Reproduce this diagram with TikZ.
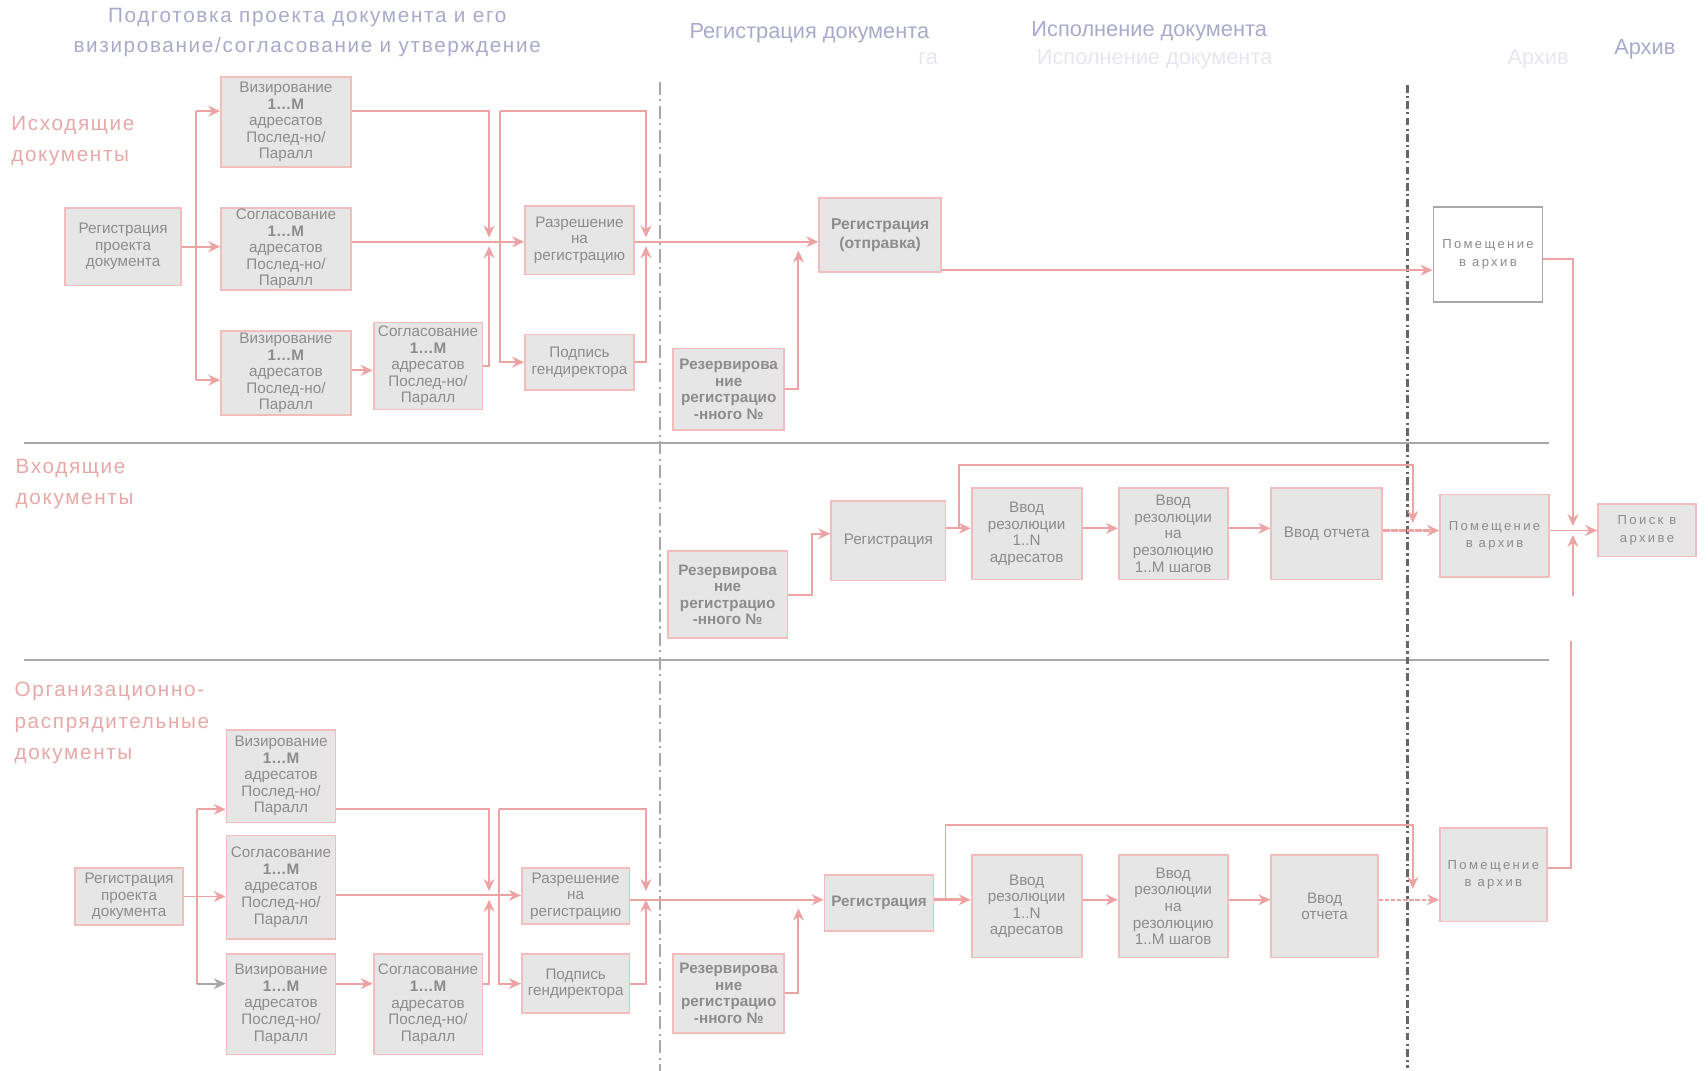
\documentclass[tikz,border=0pt]{standalone}
\usepackage{fontspec}
\setmainfont{Liberation Sans}
\newfontfamily\lsfont[LetterSpace=8]{Liberation Sans}
\newfontfamily\wsfont[LetterSpace=18]{Liberation Sans}
\usetikzlibrary{arrows.meta}
\definecolor{pk}{HTML}{EDA3A3}
\definecolor{pkb}{HTML}{F2BDBD}
\definecolor{bx}{HTML}{E6E6E6}
\definecolor{tx}{HTML}{8C8C8C}
\definecolor{hd}{HTML}{A9A9CB}
\definecolor{gh}{HTML}{E6E6F0}
\definecolor{lb}{HTML}{E8A8A8}
\definecolor{sep}{HTML}{A8A8A8}
\begin{document}
\begin{tikzpicture}[x=0.5pt,y=-0.5pt,
  box/.style={draw=pkb, fill=bx, line width=0.8pt, text=tx, align=center, inner sep=0pt,
    font=\fontsize{7}{7.6}\selectfont},
  wbox/.style={draw=sep, fill=white, line width=0.8pt, text=tx, align=center, inner sep=0pt,
    font=\wsfont\fontsize{6}{8}\selectfont},
  abox/.style={box, font=\wsfont\fontsize{6}{8}\selectfont},
  ln/.style={draw=pk, line width=0.9pt},
  arr/.style={ln, -{Stealth[length=5.5pt,width=5pt]}},
  garr/.style={draw=sep, line width=0.9pt, -{Stealth[length=5.5pt,width=5pt]}},
  lbl/.style={anchor=north west, align=left, text=lb, inner sep=0pt,
    font=\lsfont\fontsize{9.5}{14.5}\selectfont},
  hdr/.style={text=hd, inner sep=0pt, font=\lsfont\fontsize{9.5}{13.5}\selectfont, align=center},
  hdb/.style={text=hd, inner sep=0pt, font=\fontsize{10}{12}\selectfont},
  ghost/.style={text=gh, inner sep=0pt, font=\fontsize{10}{12}\selectfont},
  sepline/.style={draw=sep, line width=1pt},
  vdash/.style={draw=sep, line width=1.1pt, dash pattern=on 6pt off 2pt on 1pt off 2pt},
  vdash2/.style={draw=black!60, line width=1.1pt, dash pattern=on 3.5pt off 1.5pt on 1pt off 1.5pt}
]
\useasboundingbox (0,0) rectangle (1568,983);

% ---------- headers ----------
\node[hdr] (h1) at (282,30) {Подготовка проекта документа и его\\визирование/согласование и утверждение};
\node[hdb] (h2) at (743,31) {Регистрация документа};
\node[ghost] (h2g) at (852,54) {га};
\node[hdb] (h3) at (1055,29) {Исполнение документа};
\node[ghost] (h3g) at (1060,54) {Исполнение документа};
\node[ghost] (h4g) at (1412,54) {Архив};
\node[hdb] (h4) at (1510,45) {Архив};

% ---------- row labels ----------
\node[lbl] (t1) at (10,106) {Исходящие\\документы};
\node[lbl] (t2) at (14,421) {Входящие\\документы};
\node[lbl] (t3) at (13,626) {Организационно-\\распрядительные\\документы};

% ---------- separators ----------
\draw[sepline] (22,407) -- (1422,407);
\draw[sepline] (22,606) -- (1422,606);
\draw[vdash] (606,75) -- (606,985);
\draw[vdash2] (1292,78) -- (1292,980);

% ---------- row 1 boxes ----------
\node[box, minimum width=53pt, minimum height=35.5pt] (r1a) at (113,226.5) {Регистрация\\проекта\\документа};
\node[box, minimum width=59.5pt, minimum height=41pt] (r1b) at (262.5,112) {Визирование\\\textbf{1…M}\\адресатов\\Послед-но/\\Паралл};
\node[box, minimum width=59.5pt, minimum height=37.5pt] (r1c) at (262.5,228.5) {Согласование\\\textbf{1…M}\\адресатов\\Послед-но/\\Паралл};
\node[box, minimum width=59.5pt, minimum height=38.5pt] (r1d) at (262.5,342.5) {Визирование\\\textbf{1…M}\\адресатов\\Послед-но/\\Паралл};
\node[box, minimum width=50pt, minimum height=40pt] (r1e) at (393,336) {Согласование\\\textbf{1…M}\\адресатов\\Послед-но/\\Паралл};
\node[box, minimum width=50pt, minimum height=31.5pt] (r1f) at (532,220.5) {Разрешение\\на\\регистрацию};
\node[box, minimum width=50pt, minimum height=25.5pt] (r1g) at (532,332.5) {Подпись\\гендиректора};
\node[box, minimum width=51pt, minimum height=37.5pt] (r1h) at (669,357.5) {\textbf{Резервирова}\\\textbf{ние}\\\textbf{регистрацио}\\\textbf{-нного №}};
\node[box, minimum width=56pt, minimum height=34pt, font=\bfseries\fontsize{7.2}{9}\selectfont] (r1i) at (808,216) {Регистрация\\(отправка)};
\node[wbox, minimum width=50pt, minimum height=43.5pt] (r1j) at (1366,233.5) {Помещение\\в архив};

% ---------- row 1 connectors ----------
\coordinate (a1) at (180,102);
\coordinate (a2) at (180,349);
\coordinate (m1) at (449,222);
\coordinate (m1d) at (449,218);
\coordinate (m1u) at (449,226);
\coordinate (b1) at (0,340);
\coordinate (l1) at (459,102);
\coordinate (l2) at (593,102);
\coordinate (m2d) at (593,218);
\coordinate (m2u) at (593,226);
\coordinate (q1) at (733,230);
\coordinate (R1) at (0,248);
\coordinate (p1) at (1444,238);
\coordinate (p1d) at (1444,483);

\draw[ln] (r1a.east) -- (r1a.east -| a1);
\draw[ln] (a1) -- (a2);
\draw[arr] (a1) -- (a1 -| r1b.west);
\draw[arr] (r1a.east -| a1) -- (r1a.east -| r1c.west);
\draw[arr] (a2) -- (a2 -| r1d.west);
\draw[arr] (r1c.east |- m1) -- (r1f.west |- m1);
\draw[arr] (a1 -| r1b.east) -| (m1d);
\draw[arr] (r1e.east) -| (m1u);
\draw[arr] (r1d.east |- b1) -- (r1e.west |- b1);
\draw[arr] (l1) -- (l2) -- (m2d);
\draw[arr] (l1) |- (r1g.west);
\draw[arr] (r1g.east) -| (m2u);
\draw[arr] (r1f.east |- m1) -- (r1i.west |- m1);
\draw[arr] (r1h.east) -| (q1);
\draw[arr] (r1i.east |- R1) -- (r1j.west |- R1);
\draw[arr] (r1j.east |- p1) -- (p1) -- (p1d);

% ---------- row 2 boxes ----------
\node[box, minimum width=55pt, minimum height=40pt] (r2a) at (668,546) {\textbf{Резервирова}\\\textbf{ние}\\\textbf{регистрацио}\\\textbf{-нного №}};
\node[box, minimum width=52.5pt, minimum height=36.5pt] (r2b) at (815.5,496.5) {Регистрация};
\node[box, minimum width=50.5pt, minimum height=42pt] (r2c) at (942.5,490) {Ввод\\резолюции\\1..N\\адресатов};
\node[box, minimum width=50pt, minimum height=42pt] (r2d) at (1077,490) {Ввод\\резолюции\\на\\резолюцию\\1..M шагов};
\node[box, minimum width=51pt, minimum height=42pt] (r2e) at (1218,490) {Ввод отчета};
\node[abox, minimum width=50pt, minimum height=38pt] (r2f) at (1372,492) {Помещение\\в архив};
\node[abox, minimum width=45pt, minimum height=24pt] (r2g) at (1512,487) {Поиск в\\архиве};

% ---------- row 2 connectors ----------
\coordinate (c2) at (745,490);
\coordinate (y2) at (0,485);
\coordinate (u2a) at (880,485);
\coordinate (u2b) at (880,427);
\coordinate (u2c) at (1297,427);
\coordinate (u2d) at (1297,480);
\coordinate (p2a) at (1444,547);
\coordinate (p2u) at (1444,491);
\coordinate (p3) at (1442,588);

\draw[arr] (r2a.east) -| (c2) -- (c2 -| r2b.west);
\draw[arr] (r2b.east |- y2) -- (r2c.west |- y2);
\draw[arr] (u2a) -- (u2b) -- (u2c) -- (u2d);
\draw[arr] (r2c.east |- y2) -- (r2d.west |- y2);
\draw[arr] (r2d.east |- y2) -- (r2e.west |- y2);
\draw[arr, line width=1.3pt, dash pattern=on 3pt off 0.7pt] (r2e.east |- r2g.west) -- (r2f.west |- r2g.west);
\draw[arr] (r2f.east |- r2g.west) -- (r2g.west);
\draw[arr] (p2a) -- (p2u);

% ---------- row 3 boxes ----------
\node[box, minimum width=49.5pt, minimum height=26pt] (r3a) at (118.5,823) {Регистрация\\проекта\\документа};
\node[box, minimum width=50pt, minimum height=42.5pt] (r3b) at (258,712.5) {Визирование\\\textbf{1…M}\\адресатов\\Послед-но/\\Паралл};
\node[box, minimum width=50pt, minimum height=47.5pt] (r3c) at (258,814.5) {Согласование\\\textbf{1…M}\\адресатов\\Послед-но/\\Паралл};
\node[box, minimum width=50pt, minimum height=46pt] (r3d) at (258,922) {Визирование\\\textbf{1…M}\\адресатов\\Послед-но/\\Паралл};
\node[box, minimum width=50pt, minimum height=46pt] (r3e) at (393,922) {Согласование\\\textbf{1…M}\\адресатов\\Послед-но/\\Паралл};
\node[box, minimum width=49.5pt, minimum height=25.5pt] (r3f) at (528.5,822.5) {Разрешение\\на\\регистрацию};
\node[box, minimum width=49.5pt, minimum height=27pt] (r3g) at (528.5,903) {Подпись\\гендиректора};
\node[box, minimum width=51pt, minimum height=36pt] (r3h) at (669,912) {\textbf{Резервирова}\\\textbf{ние}\\\textbf{регистрацио}\\\textbf{-нного №}};
\node[box, minimum width=50pt, minimum height=26pt] (r3i) at (807,829) {\textbf{Регистрация}};
\node[box, minimum width=50.5pt, minimum height=47pt] (r3j) at (942.5,832) {Ввод\\резолюции\\1..N\\адресатов};
\node[box, minimum width=50pt, minimum height=47pt] (r3k) at (1077,832) {Ввод\\резолюции\\на\\резолюцию\\1..M шагов};
\node[box, minimum width=49pt, minimum height=47pt] (r3l) at (1216,832) {Ввод\\отчета};
\node[abox, minimum width=49pt, minimum height=43pt] (r3m) at (1371,803) {Помещение\\в архив};

% ---------- row 3 connectors ----------
\coordinate (a31) at (181,743);
\coordinate (a32) at (181,903);
\coordinate (m3) at (449,822);
\coordinate (m3d) at (449,818);
\coordinate (m3u) at (449,826);
\coordinate (B3) at (0,903);
\coordinate (l31) at (458,743);
\coordinate (l32) at (593,743);
\coordinate (m4d) at (593,818);
\coordinate (m4u) at (593,826);
\coordinate (y3) at (0,826);
\coordinate (q3) at (733,834);
\coordinate (u3a) at (868,826);
\coordinate (u3b) at (868,757);
\coordinate (u3c) at (1297,757);
\coordinate (u3d) at (1297,816);
\coordinate (o3) at (0,797);

\draw[ln] (r3a.east) -- (r3a.east -| a31);
\draw[ln] (a31) -- (a32);
\draw[arr] (a31) -- (a31 -| r3b.west);
\draw[arr] (r3a.east -| a31) -- (r3a.east -| r3c.west);
\draw[garr] (a32) -- (a32 -| r3d.west);
\draw[arr] (r3c.east |- m3) -- (r3f.west |- m3);
\draw[arr] (a31 -| r3b.east) -| (m3d);
\draw[arr] (r3d.east |- B3) -- (r3e.west |- B3);
\draw[arr] (r3e.east |- B3) -| (m3u);
\draw[arr] (l31) -- (l32) -- (m4d);
\draw[arr] (l31) |- (r3g.west);
\draw[arr] (r3g.east) -| (m4u);
\draw[arr] (r3f.east |- y3) -- (r3i.west |- y3);
\draw[arr] (r3h.east) -| (q3);
\draw[arr, line width=1.4pt] (r3i.east |- y3) -- (r3j.west |- y3);
\draw[arr] (u3a) -- (u3b) -- (u3c) -- (u3d);
\draw[arr] (r3j.east |- y3) -- (r3k.west |- y3);
\draw[arr] (r3k.east |- y3) -- (r3l.west |- y3);
\draw[arr, line width=1.1pt, dash pattern=on 2pt off 0.8pt] (r3l.east |- y3) -- (r3m.west |- y3);
\draw[ln] (r3m.east |- o3) -| (p3);
\end{tikzpicture}
\end{document}
